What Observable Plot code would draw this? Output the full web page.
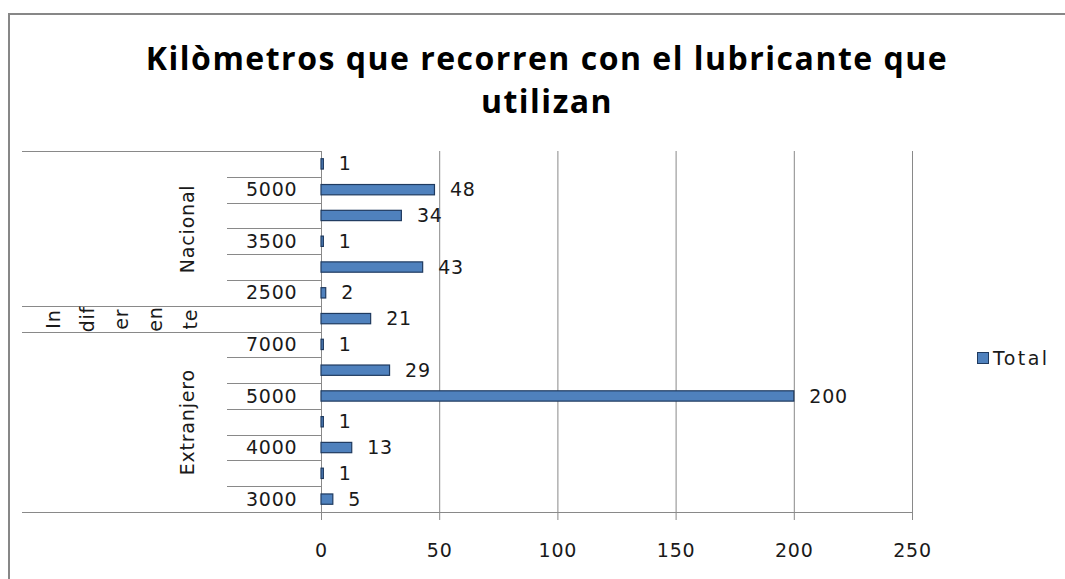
<!DOCTYPE html>
<html><head><meta charset="utf-8">
<script src="https://cdn.jsdelivr.net/npm/d3@7"></script>
<script src="https://cdn.jsdelivr.net/npm/@observablehq/plot@0.6"></script>
<style>
html,body{margin:0;padding:0;background:#fff;overflow:hidden}
#wrap{position:relative;width:1065px;height:579px;overflow:hidden}
#frameTop{position:absolute;left:8px;top:13px;width:1057px;height:2px;background:#878787}
#frameLeft{position:absolute;left:8px;top:13px;width:2px;height:566px;background:#878787}
#title{position:absolute;left:107px;width:880px;top:36px;text-align:center;font:700 32px/43px "Open Sans",sans-serif;color:#000;letter-spacing:1.5px}
#legend{position:absolute;left:977px;top:347px;height:22px;font:19px "DejaVu Sans",sans-serif;letter-spacing:2.4px;color:#1a1a1a;display:flex;align-items:center}
.sw{width:10px;height:10px;background:#4F81BD;border:1px solid #1F3A5F;margin-right:4px}
#chart{position:absolute;left:0;top:0}
</style></head>
<body>
<div id="wrap">
  <div id="chart"></div>
  <div id="frameTop"></div>
  <div id="frameLeft"></div>
  <div id="title"></div>
  <div id="legend"></div>
</div>
<script>
// ---- data (bottom row first, as in the source chart) ----
const groups = ["Extranjero","Extranjero","Extranjero","Extranjero","Extranjero","Extranjero","Extranjero","Indiferente","Nacional","Nacional","Nacional","Nacional","Nacional","Nacional"];
const kmLabels = ["3000","","4000","","5000","","7000","","2500","","3500","","5000",""];
const totals = [5, 1, 13, 1, 200, 29, 1, 21, 2, 43, 1, 34, 48, 1];
const xTicks = [0, 50, 100, 150, 200, 250];
const indiferenteParts = ["In", "dif", "er", "en", "te"];
const seriesName = "Total";
const chartTitle = "Kilòmetros que recorren con el lubricante que utilizan";

const BAR = "#4F81BD", BAR_EDGE = "#1F3A5F", LINE = "#898989", INK = "#1a1a1a";

const rows = totals.map((t, i) => ({i, group: groups[i], km: kmLabels[i], total: t}));
const groupCenters = d3.rollups(rows, v => d3.mean(v, d => d.i), d => d.group)
  .map(([name, center]) => ({name, center}));
const indCenter = groupCenters.find(g => g.name === "Indiferente").center;

// category axis decoration (multi-level Excel style lines)
function categoryLines(index, scales, values, dimensions) {
  const {marginLeft, width, marginRight} = dimensions;
  const y = scales.y;
  const g = d3.create("svg:g").attr("stroke", LINE).attr("stroke-width", 1).attr("fill", "none");
  for (let b = 0; b <= rows.length; b++) {
    const below = rows[b - 1], above = rows[b];
    const edge = !below || !above || below.group !== above.group;
    const yy = Math.round(y(b - 0.5)) + 0.5;
    const x1 = edge ? marginLeft - 299 : marginLeft - 94;
    const x2 = b === 0 ? width - marginRight : marginLeft;
    g.append("line").attr("x1", x1).attr("x2", x2).attr("y1", yy).attr("y2", yy);
  }
  return g.node();
}

const chart = Plot.plot({
  width: 1065,
  height: 579,
  marginLeft: 321,
  marginRight: 153,
  marginTop: 151,
  marginBottom: 67,
  style: {fontFamily: "DejaVu Sans, sans-serif", fontSize: "19px", color: INK, background: "transparent", overflow: "visible", letterSpacing: "0.8px"},
  x: {domain: [0, 250]},
  y: {domain: [-0.5, rows.length - 0.5], axis: null},
  marks: [
    Plot.gridX(xTicks, {stroke: LINE, strokeOpacity: 1, strokeWidth: 1}),
    Plot.axisX({ticks: xTicks, tickSize: 8, tickPadding: 23, stroke: LINE, fill: INK, label: null, tickFormat: d => String(d)}),
    categoryLines,
    Plot.rect(rows, {x1: 0, x2: "total", y1: d => d.i - 0.2, y2: d => d.i + 0.2, fill: BAR, stroke: BAR_EDGE, strokeWidth: 1.2}),
    Plot.text(rows, {x: "total", y: "i", text: d => String(d.total), textAnchor: "start", dx: 15, fill: INK}),
    Plot.text(rows.filter(d => d.km), {frameAnchor: "left", y: "i", text: "km", textAnchor: "end", dx: -24, fill: INK}),
    Plot.text(groupCenters.filter(g => g.name !== "Indiferente"), {frameAnchor: "left", y: "center", text: "name", rotate: -90, textAnchor: "middle", dx: -134, fill: INK}),
    ...indiferenteParts.map((p, k) => Plot.text([p], {frameAnchor: "left", y: () => indCenter, text: d => d, rotate: -90, textAnchor: "middle", dx: -268 + k * 34.3, fill: INK}))
  ]
});
document.getElementById("chart").appendChild(chart);
document.getElementById("title").textContent = chartTitle;
const lg = document.getElementById("legend");
lg.innerHTML = '<div class="sw"></div><span></span>';
lg.querySelector("span").textContent = seriesName;
</script>
</body></html>
